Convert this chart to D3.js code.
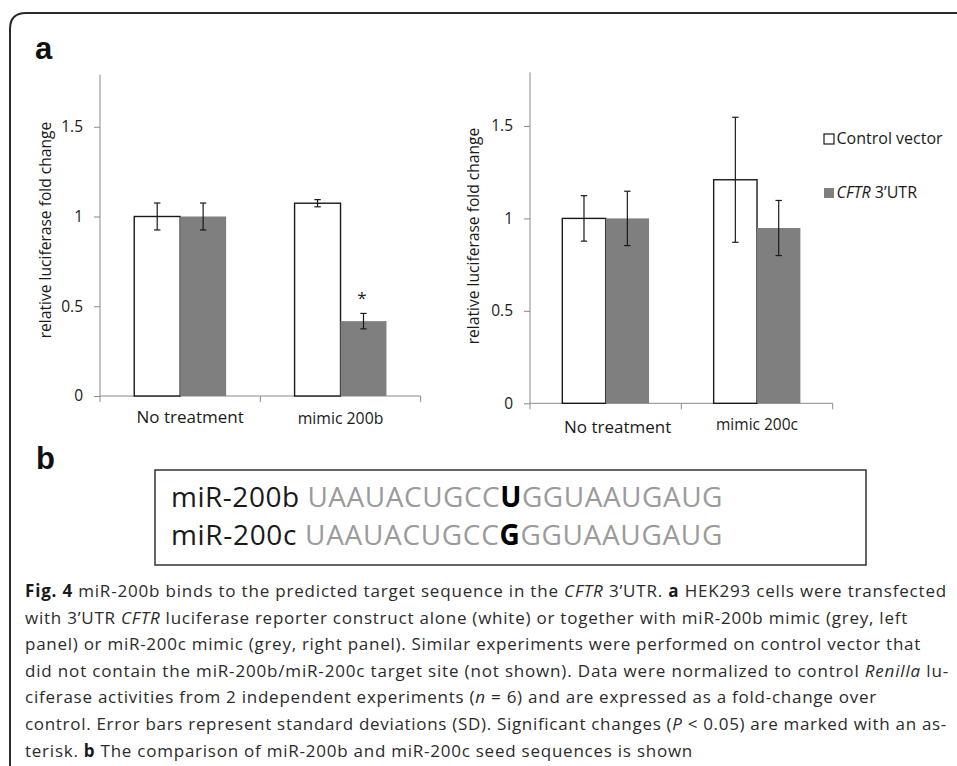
<!DOCTYPE html>
<html><head><meta charset="utf-8">
<script src="https://cdn.jsdelivr.net/npm/d3@7"></script>
<style>
html,body{margin:0;padding:0;background:#fff;}
svg{display:block;}
</style></head>
<body>
<svg id="fig" width="957" height="766"></svg>
<script>
// ---------------- DATA ----------------
const seriesNames = ["Control vector", "CFTR 3’UTR"];
const yTickValues = [0, 0.5, 1, 1.5];
const yTickLabels = ["0", "0.5", "1", "1.5"];
const yLabel = "relative luciferase fold change";

const leftCategories = ["No treatment", "mimic 200b"];
const leftControl = [1.00, 1.074];
const leftControlSD = [0.075, 0.020];
const leftCFTR = [1.00, 0.417];
const leftCFTRSD = [0.075, 0.043];
const leftSignificant = [[false, false], [false, true]];

const rightCategories = ["No treatment", "mimic 200c"];
const rightControl = [1.00, 1.209];
const rightControlSD = [0.123, 0.338];
const rightCFTR = [1.00, 0.948];
const rightCFTRSD = [0.147, 0.149];
const rightSignificant = [[false, false], [false, false]];

const seqNames = ["miR-200b", "miR-200c"];
const seqPrefix = ["UAAUACUGCC", "UAAUACUGCC"];
const seqVariant = ["U", "G"];
const seqSuffix = ["GGUAAUGAUG", "GGUAAUGAUG"];

// caption lines as [text, style] runs (b = bold, i = italic, n = normal)
const captionLines = [
  [["Fig. 4", "b"], [" miR-200b binds to the predicted target sequence in the ", "n"], ["CFTR", "i"], [" 3’UTR. ", "n"], ["a", "b"], [" HEK293 cells were transfected", "n"]],
  [["with 3’UTR ", "n"], ["CFTR", "i"], [" luciferase reporter construct alone (white) or together with miR-200b mimic (grey, left", "n"]],
  [["panel) or miR-200c mimic (grey, right panel). Similar experiments were performed on control vector that", "n"]],
  [["did not contain the miR-200b/miR-200c target site (not shown). Data were normalized to control ", "n"], ["Renilla", "i"], [" lu-", "n"]],
  [["ciferase activities from 2 independent experiments (", "n"], ["n", "i"], [" = 6) and are expressed as a fold-change over", "n"]],
  [["control. Error bars represent standard deviations (SD). Significant changes (", "n"], ["P", "i"], [" < 0.05) are marked with an as-", "n"]],
  [["terisk. ", "n"], ["b", "b"], [" The comparison of miR-200b and miR-200c seed sequences is shown", "n"]]
];

// ---------------- LAYOUT / STYLE ----------------
const svg = d3.select("#fig");
const CHART_FONT = "'Open Sans', 'Noto Sans', sans-serif";
const AXIS_COLOR = "#8a8a8a";
const GREY_BAR = "#7f7f7f";

// outer frame (top-left rounded corner; continues past the right and bottom edges)
svg.append("path")
  .attr("d", "M10,790 L10,29 Q10,13 26,13 L980,13")
  .attr("fill", "none").attr("stroke", "#2a2a2a").attr("stroke-width", 2);

// panel letters
svg.append("text").attr("x", 35).attr("y", 59).text("a")
  .attr("font-family", "'Liberation Sans', Arial, sans-serif").attr("font-weight", "bold")
  .attr("font-size", 31).attr("fill", "#111");
svg.append("text").attr("x", 36).attr("y", 469).text("b")
  .attr("font-family", "'Liberation Sans', Arial, sans-serif").attr("font-weight", "bold")
  .attr("font-size", 31).attr("fill", "#111");

function drawPanel(cfg) {
  const g = svg.append("g");
  const y = d3.scaleLinear().domain([0, 1.79]).range([cfg.y0, cfg.y0 - 1.79 * cfg.unit]);
  const x0 = d3.scaleBand().domain(cfg.categories).range([cfg.xl, cfg.xr])
    .paddingInner(0.427).paddingOuter(0.2135);
  const x1 = d3.scaleBand().domain(seriesNames).range([0, x0.bandwidth()]);

  // y axis
  const yAxis = d3.axisLeft(y).tickValues(yTickValues).tickSize(6).tickPadding(11)
    .tickFormat((d, i) => yTickLabels[i]);
  const ya = g.append("g").attr("transform", `translate(${cfg.xl},0)`).call(yAxis);
  ya.select(".domain").attr("stroke", AXIS_COLOR).attr("d", `M0,${y(1.79)}V${cfg.y0}`);
  ya.selectAll(".tick line").attr("stroke", AXIS_COLOR);
  ya.selectAll(".tick text").attr("font-family", CHART_FONT).attr("font-size", 15.5).attr("fill", "#1a1a1a");

  // x axis (baseline + boundary ticks)
  g.append("line").attr("x1", cfg.xl).attr("x2", cfg.xr).attr("y1", cfg.y0).attr("y2", cfg.y0)
    .attr("stroke", AXIS_COLOR);
  const bounds = cfg.categories.map(c => x0(c) - x0.step() * x0.paddingOuter()).concat([cfg.xr]);
  g.selectAll("line.xt").data(bounds).join("line").attr("class", "xt")
    .attr("x1", d => d).attr("x2", d => d).attr("y1", cfg.y0).attr("y2", cfg.y0 + 6)
    .attr("stroke", AXIS_COLOR);

  // category labels
  g.selectAll("text.cat").data(cfg.categories).join("text").attr("class", "cat")
    .attr("x", (d, i) => x0(d) + x0.bandwidth() / 2 + cfg.catDx[i])
    .attr("y", (d, i) => cfg.catY[i])
    .attr("text-anchor", "middle").attr("font-family", CHART_FONT)
    .attr("font-size", (d, i) => cfg.catSize[i]).attr("fill", "#1a1a1a").text(d => d);

  // y label
  g.append("text").attr("transform", `translate(${cfg.ylabX},${cfg.ylabY}) rotate(-90)`)
    .attr("text-anchor", "middle").attr("font-family", CHART_FONT).attr("font-size", 15.6)
    .attr("fill", "#1a1a1a").text(yLabel);

  // bars
  const rows = cfg.categories.map((c, i) => ({
    cat: c,
    vals: [
      { s: seriesNames[0], v: cfg.control[i], sd: cfg.controlSD[i], sig: cfg.sig[i][0] },
      { s: seriesNames[1], v: cfg.cftr[i], sd: cfg.cftrSD[i], sig: cfg.sig[i][1] }
    ]
  }));
  const grp = g.selectAll("g.grp").data(rows).join("g").attr("class", "grp")
    .attr("transform", d => `translate(${x0(d.cat)},0)`);
  grp.selectAll("rect").data(d => d.vals).join("rect")
    .attr("x", d => x1(d.s)).attr("width", x1.bandwidth())
    .attr("y", d => y(d.v)).attr("height", d => cfg.y0 - y(d.v))
    .attr("fill", (d, i) => i === 0 ? "#fff" : GREY_BAR)
    .attr("stroke", (d, i) => i === 0 ? "#1a1a1a" : "none")
    .attr("stroke-width", 1.4);
  // error bars
  const eb = grp.selectAll("g.eb").data(d => d.vals).join("g").attr("class", "eb")
    .attr("transform", d => `translate(${x1(d.s) + x1.bandwidth() / 2},0)`);
  eb.append("line").attr("x1", 0).attr("x2", 0)
    .attr("y1", d => y(d.v + d.sd)).attr("y2", d => y(d.v - d.sd))
    .attr("stroke", "#1a1a1a").attr("stroke-width", 1.2);
  eb.append("line").attr("x1", -3.2).attr("x2", 3.2)
    .attr("y1", d => y(d.v + d.sd)).attr("y2", d => y(d.v + d.sd))
    .attr("stroke", "#1a1a1a").attr("stroke-width", 1.2);
  eb.append("line").attr("x1", -3.2).attr("x2", 3.2)
    .attr("y1", d => y(d.v - d.sd)).attr("y2", d => y(d.v - d.sd))
    .attr("stroke", "#1a1a1a").attr("stroke-width", 1.2);
  eb.filter(d => d.sig).append("text")
    .attr("x", -1.5).attr("y", d => y(d.v + d.sd) - 9)
    .attr("text-anchor", "middle").attr("font-family", CHART_FONT).attr("font-size", 17)
    .attr("fill", "#1a1a1a").text("*");
  return g;
}

drawPanel({
  categories: leftCategories, control: leftControl, controlSD: leftControlSD,
  cftr: leftCFTR, cftrSD: leftCFTRSD, sig: leftSignificant,
  xl: 100, xr: 420.7, y0: 396, unit: 179.5,
  catDx: [10, 0], catY: [423, 424], catSize: [17, 15.8],
  ylabX: 50.5, ylabY: 230
});
drawPanel({
  categories: rightCategories, control: rightControl, controlSD: rightControlSD,
  cftr: rightCFTR, cftrSD: rightCFTRSD, sig: rightSignificant,
  xl: 530, xr: 832.7, y0: 403.3, unit: 184.9,
  catDx: [12, 0], catY: [433, 430], catSize: [17, 15.5],
  ylabX: 479, ylabY: 236
});

// legend
const legend = svg.append("g").attr("transform", "translate(824,0)");
const legY = [134, 188];
seriesNames.forEach((s, i) => {
  legend.append("rect").attr("x", 0).attr("y", legY[i]).attr("width", 10).attr("height", 10)
    .attr("fill", i === 0 ? "#fff" : GREY_BAR).attr("stroke", i === 0 ? "#1a1a1a" : "none")
    .attr("stroke-width", 1.2);
  const t = legend.append("text").attr("x", 12.5).attr("y", legY[i] + 9.5)
    .attr("font-family", CHART_FONT).attr("font-size", 16).attr("fill", "#1a1a1a");
  if (i === 1) {
    const parts = s.split(" ");
    t.append("tspan").attr("font-style", "italic").text(parts[0]);
    t.append("tspan").text(" " + parts.slice(1).join(" "));
  } else t.text(s);
});

// sequence box
svg.append("rect").attr("x", 155).attr("y", 470).attr("width", 711).attr("height", 95)
  .attr("fill", "#fff").attr("stroke", "#333").attr("stroke-width", 1.5);
const seqBase = [507, 545];
seqNames.forEach((nm, i) => {
  const t = svg.append("text").attr("x", 171).attr("y", seqBase[i])
    .attr("font-family", CHART_FONT).attr("font-size", 28);
  t.append("tspan").attr("fill", "#1a1a1a").text(nm + " ");
  t.append("tspan").attr("fill", "#9b9b9b").text(seqPrefix[i]);
  t.append("tspan").attr("fill", "#000").attr("font-weight", "bold").text(seqVariant[i]);
  t.append("tspan").attr("fill", "#9b9b9b").text(seqSuffix[i]);
  const target = 552, nat = t.node().getComputedTextLength();
  const n = t.text().length;
  t.attr("letter-spacing", ((target - nat) / n).toFixed(3));
});

// caption
const capEnds = [947, 908, 921, 949, 877, 947, 693];
const capX = 25;
captionLines.forEach((runs, li) => {
  const t = svg.append("text").attr("x", capX).attr("y", 597 + li * 26.6)
    .attr("font-family", "'Open Sans', 'Noto Sans', sans-serif").attr("font-size", 17)
    .attr("fill", "#2b2b2b");
  runs.forEach(([txt, st]) => {
    const sp = t.append("tspan").text(txt);
    if (st === "b") sp.attr("font-weight", "bold").attr("fill", "#1a1a1a");
    if (st === "i") sp.attr("font-style", "italic");
  });
  const nat = t.node().getComputedTextLength();
  const n = t.text().length;
  t.attr("letter-spacing", ((capEnds[li] - capX - nat) / n).toFixed(3));
});
</script>
</body></html>
